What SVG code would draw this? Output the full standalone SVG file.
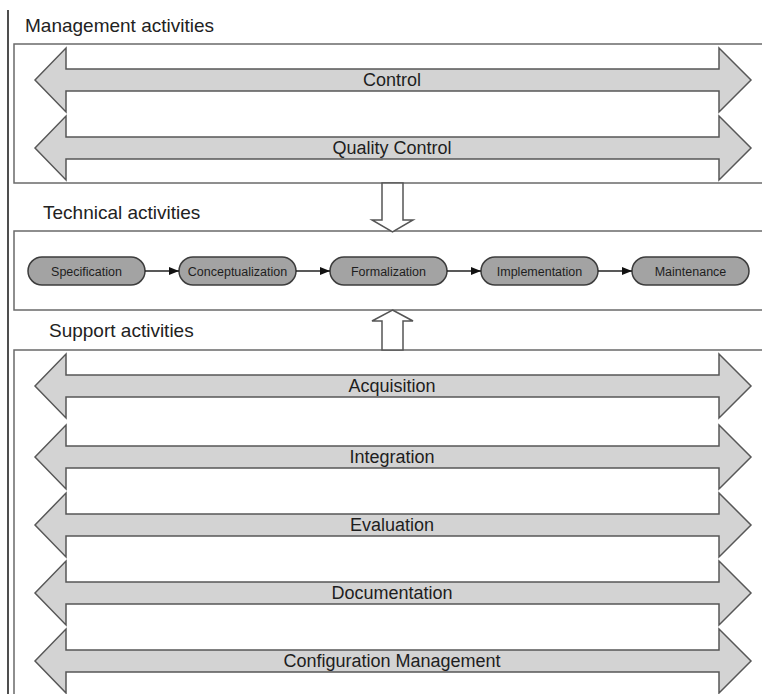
<svg xmlns="http://www.w3.org/2000/svg" width="762" height="694" viewBox="0 0 762 694">
<defs>
<style>
.bg{fill:#ffffff}
.frame{fill:#ffffff;stroke:#6a6a6a;stroke-width:1.5}
.title{font-family:"Liberation Sans",Arial,sans-serif;font-size:19px;fill:#222}
.band{fill:#d3d3d3;stroke:#575757;stroke-width:1.5;stroke-linejoin:miter}
.bandtxt{font-family:"Liberation Sans",Arial,sans-serif;font-size:18px;fill:#1e1e1e;text-anchor:middle}
.node{fill:#a3a3a3;stroke:#3c3c3c;stroke-width:1.5}
.nodetxt{font-family:"Liberation Sans",Arial,sans-serif;font-size:12.5px;fill:#1e1e1e;text-anchor:middle}
.flow{stroke:#222;stroke-width:1.3;fill:none}
.varrow{fill:#ffffff;stroke:#555;stroke-width:1.5}
</style>
<marker id="ah" markerWidth="10" markerHeight="8" refX="10" refY="4" orient="auto" markerUnits="userSpaceOnUse">
<path d="M0,0 L10,4 L0,8 Z" fill="#111"/>
</marker>
<polygon id="dbl" points="35,0 66,-32 66,-11 719,-11 719,-32 751,0 719,32 719,11 66,11 66,32"/>
</defs>
<rect class="bg" x="0" y="0" width="762" height="694"/>
<line x1="8" y1="10" x2="8" y2="694" stroke="#222" stroke-width="1.6"/>

<g id="management">
<text class="title" x="25" y="32">Management activities</text>
<rect class="frame" x="14" y="44" width="760" height="139"/>
</g>
<g id="control"><use href="#dbl" class="band" transform="translate(0,80)"/><text class="bandtxt" x="392" y="86">Control</text></g>
<g id="quality-control"><use href="#dbl" class="band" transform="translate(0,148)"/><text class="bandtxt" x="392" y="154">Quality Control</text></g>

<g id="technical">
<text class="title" x="43" y="219">Technical activities</text>
<rect class="frame" x="14" y="231" width="760" height="79"/>
</g>

<g id="support">
<text class="title" x="49" y="337">Support activities</text>
<rect class="frame" x="14" y="350" width="760" height="360"/>
</g>

<g id="specification"><rect class="node" x="28" y="257" width="117" height="28" rx="14"/><text class="nodetxt" x="86.5" y="275.5">Specification</text></g>
<g id="conceptualization"><rect class="node" x="179" y="257" width="117" height="28" rx="14"/><text class="nodetxt" x="237.5" y="275.5">Conceptualization</text></g>
<g id="formalization"><rect class="node" x="330" y="257" width="117" height="28" rx="14"/><text class="nodetxt" x="388.5" y="275.5">Formalization</text></g>
<g id="implementation"><rect class="node" x="481" y="257" width="117" height="28" rx="14"/><text class="nodetxt" x="539.5" y="275.5">Implementation</text></g>
<g id="maintenance"><rect class="node" x="632" y="257" width="117" height="28" rx="14"/><text class="nodetxt" x="690.5" y="275.5">Maintenance</text></g>

<g id="acquisition"><use href="#dbl" class="band" transform="translate(0,386)"/><text class="bandtxt" x="392" y="392">Acquisition</text></g>
<g id="integration"><use href="#dbl" class="band" transform="translate(0,457)"/><text class="bandtxt" x="392" y="463">Integration</text></g>
<g id="evaluation"><use href="#dbl" class="band" transform="translate(0,525)"/><text class="bandtxt" x="392" y="531">Evaluation</text></g>
<g id="documentation"><use href="#dbl" class="band" transform="translate(0,593)"/><text class="bandtxt" x="392" y="599">Documentation</text></g>
<g id="configuration-management"><use href="#dbl" class="band" transform="translate(0,661)"/><text class="bandtxt" x="392" y="667">Configuration Management</text></g>

<g id="connectors">
<line class="flow" x1="145" y1="271" x2="179" y2="271" marker-end="url(#ah)"/>
<line class="flow" x1="296" y1="271" x2="330" y2="271" marker-end="url(#ah)"/>
<line class="flow" x1="447" y1="271" x2="481" y2="271" marker-end="url(#ah)"/>
<line class="flow" x1="598" y1="271" x2="632" y2="271" marker-end="url(#ah)"/>
<polygon class="varrow" points="382,183 403,183 403,220 413,220 392.5,232 372,220 382,220"/>
<polygon class="varrow" points="392.5,310 413,321 403,321 403,350 382,350 382,321 372,321"/>
</g>
</svg>
